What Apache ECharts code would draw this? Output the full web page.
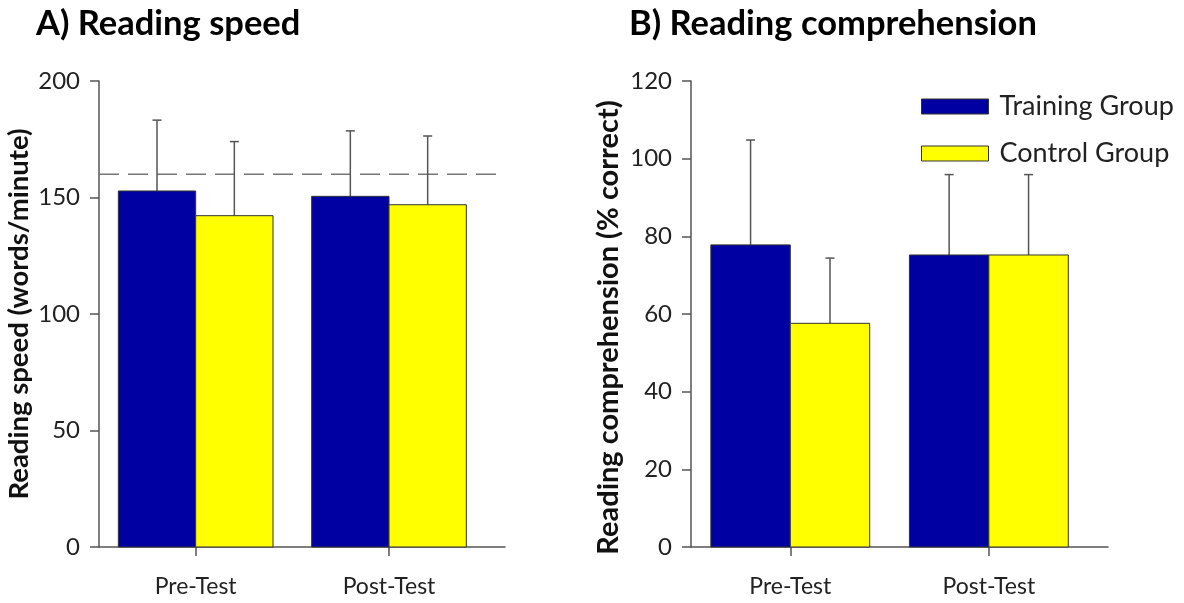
<!DOCTYPE html>
<html>
<head>
<meta charset="utf-8">
<script src="https://cdn.jsdelivr.net/npm/echarts@6/dist/echarts.min.js"></script>
<style>
  html, body { margin: 0; padding: 0; background: #fff; }
  #chart { width: 1184px; height: 603px; }
</style>
</head>
<body>
<div id="chart"></div>
<script>
// Test sessions (x positions 1 and 2 on each panel)
const categories = ['Pre-Test', 'Post-Test'];
const groupNames = ['Training Group', 'Control Group'];

// A) Reading speed, words/minute: means and upper SD
const speedTraining = [152.8, 150.5];
const speedTrainingSD = [30.4, 28.1];
const speedControl = [142.2, 146.9];
const speedControlSD = [31.8, 29.5];
const speedReference = 160;

// B) Reading comprehension, % correct: means and upper SD
const compTraining = [77.8, 75.2];
const compTrainingSD = [27.0, 20.7];
const compControl = [57.6, 75.2];
const compControlSD = [16.8, 20.7];

const FONT = 'Lato, "Open Sans", sans-serif';
const BLUE = '#0000A2';
const YELLOW = '#FFFF00';
const AXIS = '#555';
const BAR_W = 0.4; // bar width in axis units

function points(means, sds) {
  return means.map((m, i) => [i + 1, m, sds[i]]);
}

// bar with an upper-only error whisker; side -1 = left of centre, +1 = right
function barRenderer(side) {
  return function (params, api) {
    const c = api.value(0);
    const mean = api.value(1);
    const sd = api.value(2);
    const x0 = side < 0 ? c - BAR_W : c;
    const x1 = x0 + BAR_W;
    const pBase = api.coord([x0, 0]);
    const pTop = api.coord([x1, mean]);
    const xm = api.coord([x0 + BAR_W / 2, mean]);
    const pErr = api.coord([x0 + BAR_W / 2, mean + sd]);
    const color = api.visual('color');
    return {
      type: 'group',
      children: [
        {
          type: 'line',
          shape: { x1: xm[0], y1: xm[1], x2: pErr[0], y2: pErr[1] },
          style: { stroke: '#555', lineWidth: 1.5 }
        },
        {
          type: 'line',
          shape: { x1: pErr[0] - 4.5, y1: pErr[1], x2: pErr[0] + 4.5, y2: pErr[1] },
          style: { stroke: '#555', lineWidth: 1.5 }
        },
        {
          type: 'rect',
          shape: { x: pBase[0], y: pTop[1], width: pTop[0] - pBase[0], height: pBase[1] - pTop[1] },
          style: { fill: color, stroke: '#333', lineWidth: 1 }
        }
      ]
    };
  };
}

function xAxisFor(gridIndex) {
  return {
    type: 'value', gridIndex: gridIndex, min: 0.5, max: 2.6,
    axisLine: { lineStyle: { color: AXIS, width: 1.5 } },
    axisTick: { customValues: [1, 2], length: 9, lineStyle: { color: AXIS, width: 1.5 } },
    axisLabel: {
      customValues: [1, 2], margin: 28,
      formatter: v => categories[Math.round(v) - 1],
      fontFamily: FONT, fontSize: 23, color: '#222'
    },
    splitLine: { show: false }
  };
}

function yAxisFor(gridIndex, max, interval, name, nameGap, nameSize, namePad) {
  return {
    type: 'value', gridIndex: gridIndex, min: 0, max: max, interval: interval,
    name: name, nameLocation: 'middle', nameGap: nameGap,
    nameTextStyle: { fontFamily: FONT, fontWeight: 'bold', fontSize: nameSize, color: '#111', padding: namePad },
    axisLine: { show: true, lineStyle: { color: AXIS, width: 1.5 } },
    axisTick: { show: true, length: 9, lineStyle: { color: AXIS, width: 1.5 } },
    axisLabel: { margin: 19, fontFamily: FONT, fontSize: 24, color: '#222' },
    splitLine: { show: false }
  };
}

const chart = echarts.init(document.getElementById('chart'), null, { renderer: 'canvas' });

chart.setOption({
  backgroundColor: '#fff',
  animation: false,
  title: [
    { text: 'A) Reading speed', left: 31, top: 1,
      textStyle: { fontFamily: FONT, fontWeight: 'bold', fontSize: 34.5, color: '#000' } },
    { text: 'B) Reading comprehension', left: 624, top: 1,
      textStyle: { fontFamily: FONT, fontWeight: 'bold', fontSize: 34.5, color: '#000' } }
  ],
  legend: {
    orient: 'vertical', left: 916, top: 88,
    itemWidth: 67, itemHeight: 15, itemGap: 20,
    icon: 'rect',
    textStyle: { fontFamily: FONT, fontSize: 27, color: '#222', padding: [0, 0, 0, 6] },
    data: [
      { name: groupNames[0], itemStyle: { color: BLUE, borderColor: '#333', borderWidth: 1 } },
      { name: groupNames[1], itemStyle: { color: YELLOW, borderColor: '#333', borderWidth: 1 } }
    ]
  },
  grid: [
    { left: 99, top: 81, width: 406, height: 466 },
    { left: 691, top: 81, width: 417, height: 466 }
  ],
  xAxis: [xAxisFor(0), xAxisFor(1)],
  yAxis: [
    yAxisFor(0, 200, 50, 'Reading speed (words/minute)', 66, 27.5, 0),
    yAxisFor(1, 120, 20, 'Reading comprehension (% correct)', 68, 29, [0, 27, 0, 0])
  ],
  series: [
    {
      type: 'line', xAxisIndex: 0, yAxisIndex: 0, silent: true,
      data: [[0.5, speedReference], [2.6, speedReference]],
      symbol: 'none', lineStyle: { color: '#777', width: 1.5, type: [20, 9] }, z: 1
    },
    { type: 'custom', name: groupNames[0], xAxisIndex: 0, yAxisIndex: 0,
      itemStyle: { color: BLUE }, renderItem: barRenderer(-1),
      data: points(speedTraining, speedTrainingSD), z: 2 },
    { type: 'custom', name: groupNames[1], xAxisIndex: 0, yAxisIndex: 0,
      itemStyle: { color: YELLOW }, renderItem: barRenderer(1),
      data: points(speedControl, speedControlSD), z: 2 },
    { type: 'custom', name: groupNames[0], xAxisIndex: 1, yAxisIndex: 1,
      itemStyle: { color: BLUE }, renderItem: barRenderer(-1),
      data: points(compTraining, compTrainingSD), z: 2 },
    { type: 'custom', name: groupNames[1], xAxisIndex: 1, yAxisIndex: 1,
      itemStyle: { color: YELLOW }, renderItem: barRenderer(1),
      data: points(compControl, compControlSD), z: 2 }
  ]
});
</script>
</body>
</html>
